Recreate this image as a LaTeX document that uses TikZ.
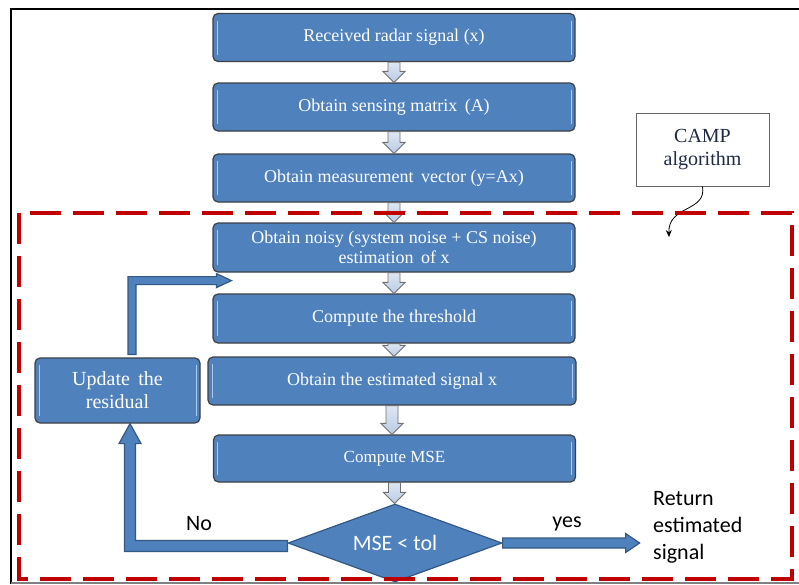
\documentclass[tikz,border=0pt]{standalone}
\usepackage{fontspec}
\setmainfont{Liberation Serif}
\newfontfamily\calfont{Carlito}
\usetikzlibrary{shapes.geometric,calc,arrows.meta}
\definecolor{boxblue}{RGB}{79,129,189}
\definecolor{boxedge}{RGB}{60,64,72}
\definecolor{boxhi}{RGB}{175,202,236}
\definecolor{arredge}{RGB}{52,88,132}
\definecolor{lighttop}{RGB}{222,231,243}
\definecolor{lightbot}{RGB}{185,203,228}
\definecolor{lightedge}{RGB}{112,112,112}
\definecolor{redline}{RGB}{192,0,0}
\definecolor{navy}{RGB}{31,42,68}
\tikzset{
  hiline/.style={boxhi, line width=1pt},
  stepbox/.style={draw=boxedge, line width=1.2pt, fill=boxblue, rounded corners=5pt,
    text=white, align=center, font=\fontsize{18}{20}\selectfont, inner sep=0pt,
    minimum width=362pt, minimum height=48pt,
    path picture={
      \draw[hiline] ([xshift=4pt,yshift=-7pt]path picture bounding box.north west) -- ([xshift=4pt,yshift=7pt]path picture bounding box.south west);
      \draw[hiline] ([xshift=-4pt,yshift=-7pt]path picture bounding box.north east) -- ([xshift=-4pt,yshift=7pt]path picture bounding box.south east);}},
  lightarrow/.style={draw=lightedge, line width=0.9pt, top color=lighttop, bottom color=lightbot, line join=miter},
  thickarrow/.style={fill=boxblue, draw=arredge, line width=1.2pt, line join=miter},
  sanslabel/.style={font=\calfont\fontsize{22}{27}\selectfont, text=black, inner sep=0pt},
}
\newcommand{\blockarrow}[2]{%
  \coordinate (T) at (#1.south);
  \coordinate (B) at (T |- #2.north);
  \draw[lightarrow] ($(T)+(-6,0)$) -- ($(T)+(6,0)$) -- ($(B)+(6,-11)$) -- ($(B)+(11,-11)$) -- (B)
    -- ($(B)+(-11,-11)$) -- ($(B)+(-6,-11)$) -- cycle;}
\begin{document}
\begin{tikzpicture}[x=1pt,y=-1pt]
\useasboundingbox (0,0) rectangle (799,584);
\fill[white] (0,0) rectangle (799,584);
% outer frame
\draw[line width=2.5pt] (11,584) -- (11,9) -- (799,9);
\draw[gray, line width=1.5pt] (11,583) -- (799,583);

% main boxes
\node[stepbox] (r1) at (394,37.5) {Received radar signal (x)};
\node[stepbox] (r2) at (394,107) {Obtain sensing matrix\, (A)};
\node[stepbox] (r3) at (394,178) {Obtain measurement\, vector (y=Ax)};
\node[stepbox, minimum height=49pt] (r4) at (394,247.5) {Obtain noisy (system noise + CS noise)\\estimation\, of x};
\node[stepbox, minimum height=49pt] (r5) at (394,318.5) {Compute the threshold};
\node[stepbox, minimum width=368pt] (r6) at (392,381) {Obtain the estimated signal x};
\node[stepbox, minimum height=47pt, font=\fontsize{17}{20}\selectfont] (r7) at (394.5,458.5) {Compute MSE};
\node[stepbox, minimum width=165pt, minimum height=65pt, font=\fontsize{20}{23}\selectfont] (upd) at (117.5,390.5) {Update\, the\\residual};

% light block arrows
\blockarrow{r1}{r2}
\blockarrow{r2}{r3}
\blockarrow{r3}{r4}
\blockarrow{r4}{r5}
\blockarrow{r5}{r6}
\blockarrow{r6}{r7}

% decision
\node[diamond, fill=boxblue, draw=arredge, line width=1.2pt, aspect=2.74, inner sep=0pt,
  minimum width=214pt, minimum height=78pt, text=white,
  font=\calfont\fontsize{22}{26}\selectfont] (dia) at (395,543) {MSE < tol};
\blockarrow{r7}{dia}

% No arrow back to update box
\coordinate (nstart) at ($(dia.west)+(0,3)$);
\coordinate (ntip) at ($(upd.south)+(12.5,0)$);
\coordinate (ncorner) at (ntip |- nstart);
\filldraw[thickarrow] ($(nstart)+(0,-5.5)$) -- ($(ncorner)+(5.5,-5.5)$) -- ($(ntip)+(5.5,20)$)
  -- ($(ntip)+(11,20)$) -- (ntip) -- ($(ntip)+(-11,20)$) -- ($(ntip)+(-5.5,20)$)
  -- ($(ncorner)+(-5.5,5.5)$) -- ($(nstart)+(0,5.5)$) -- cycle;

% yes arrow
\coordinate (ytip) at ($(dia.east)+(137,0)$);
\filldraw[thickarrow] ($(dia.east)+(0,-5)$) -- ($(ytip)+(-14,-5)$) -- ($(ytip)+(-14,-9.5)$) -- (ytip)
  -- ($(ytip)+(-14,9.5)$) -- ($(ytip)+(-14,5)$) -- ($(dia.east)+(0,5)$) -- cycle;

% update -> noisy estimation arrow
\coordinate (ustart) at ($(upd.north)+(14.5,-3)$);
\coordinate (utip) at ($(r4.south west)+(19,8)$);
\coordinate (ucorner) at (ustart |- utip);
\filldraw[thickarrow] ($(ustart)+(-4,0)$) -- ($(ucorner)+(-4,-4)$) -- ($(utip)+(-15,-4)$)
  -- ($(utip)+(-15,-7)$) -- (utip) -- ($(utip)+(-15,7)$) -- ($(utip)+(-15,4)$)
  -- ($(ucorner)+(4,4)$) -- ($(ustart)+(4,0)$) -- cycle;

% labels
\node[sanslabel] (no) at (199,524) {No};
\node[sanslabel] (yes) at (567,524) {yes};
\node[sanslabel, anchor=west, align=left] (ret) at (653,527) {Return\\estimated\\signal};

% CAMP note
\node[draw=gray!80!black, line width=0.8pt, fill=white, minimum width=133pt, minimum height=73pt,
  inner sep=0pt, align=center, text=navy, font=\fontsize{20}{23}\selectfont] (camp) at (702.5,149.5) {CAMP\\algorithm};
\coordinate (cend) at (669,237);
\draw[line width=0.8pt, -{Stealth[length=7pt,width=6pt]}] (camp.south) .. controls (707,212) and (668,205) .. (cend);

% CAMP region
\draw[redline, line width=3.5pt, dash pattern=on 31pt off 12pt] (19,213) rectangle (792,579);
\end{tikzpicture}
\end{document}
